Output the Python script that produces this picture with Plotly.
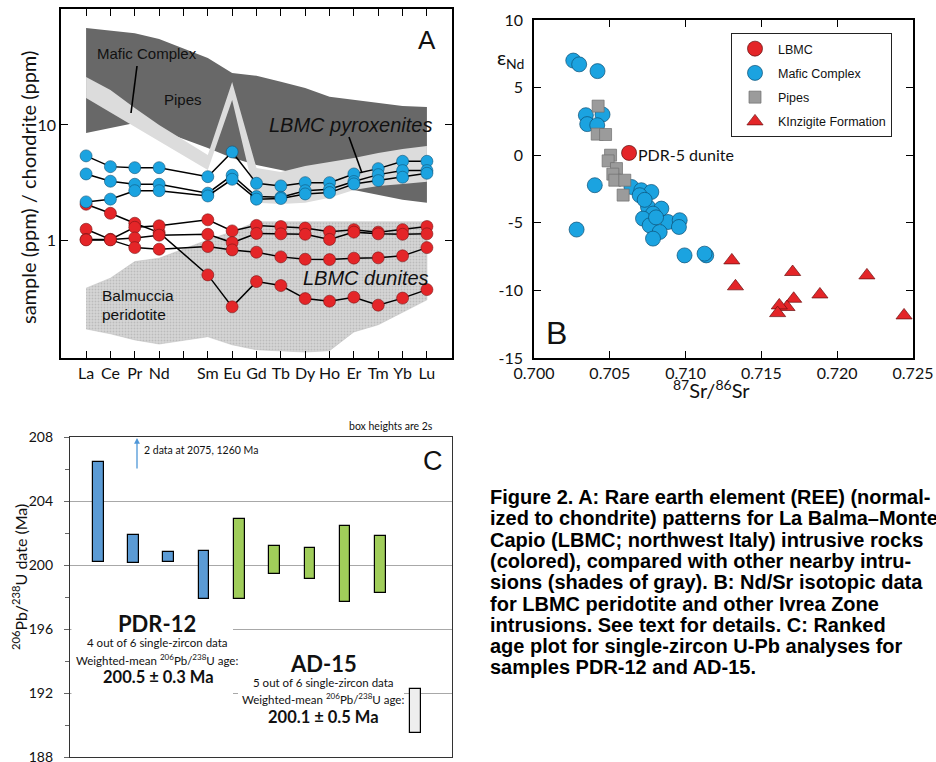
import plotly.graph_objects as go

W, H = 936, 762

# ---------------- Panel A : REE patterns ----------------
ree_axis = ["La", "Ce", "Pr", "Nd", "Pm", "Sm", "Eu", "Gd", "Tb", "Dy", "Ho", "Er", "Tm", "Yb", "Lu"]
ree_axis_labels = ["La", "Ce", "Pr", "Nd", " ", "Sm", "Eu", "Gd", "Tb", "Dy", "Ho", "Er", "Tm", "Yb", "Lu"]
ree = ["La", "Ce", "Pr", "Nd", "Sm", "Eu", "Gd", "Tb", "Dy", "Ho", "Er", "Tm", "Yb", "Lu"]

pyroxenite_1 = [5.41, 4.37, 4.28, 4.28, 3.58, 5.85, 3.14, 2.98, 3.18, 3.18, 3.78, 4.20, 4.86, 4.86]
pyroxenite_2 = [3.78, 3.27, 3.08, 3.08, 2.58, 3.68, 2.41, 2.38, 2.71, 2.79, 3.25, 3.73, 4.04, 4.04]
pyroxenite_3 = [2.17, 2.29, 2.71, 2.71, 2.44, 3.40, 2.29, 2.32, 2.54, 2.61, 3.10, 3.31, 3.54, 3.83]

dunite_1 = [2.07, 1.73, 1.42, 1.18, 0.509, 0.270, 0.446, 0.412, 0.318, 0.302, 0.327, 0.279, 0.321, 0.380]
dunite_2 = [1.26, 1.03, 1.31, 1.35, 1.52, 1.22, 1.36, 1.33, 1.29, 1.20, 1.25, 1.19, 1.25, 1.33]
dunite_3 = [1.03, 1.03, 1.06, 1.12, 1.14, 0.967, 1.16, 1.15, 1.14, 1.03, 1.19, 1.15, 1.14, 1.15]
dunite_4 = [1.02, 1.02, 0.875, 0.848, 0.893, 0.836, 0.799, 0.728, 0.695, 0.690, 0.710, 0.714, 0.743, 0.875]

pipes_upper = [68.6, 65.0, 61.8, 55.1, 37.8, 28.1, 26.5, 23.6, 20.8, 17.5, 16.4, 15.5, 14.6, 14.3]
pipes_lower = [8.53, 9.42, 10.4, 9.06, 6.34, 5.20, 4.52, 4.09, 3.71, 3.23, 2.75, 2.49, 2.26, 2.13]
mafic_upper = [25.9, 20.0, 14.0, 10.0, 5.51, 23.5, 4.26, 3.93, 4.43, 4.80, 5.20, 5.74, 6.21, 6.59]
mafic_lower = [17.1, 12.9, 9.61, 7.28, 4.09, 16.4, 2.13, 2.08, 2.13, 2.35, 2.75, 2.98, 3.10, 3.23]
peridotite_upper = [0.391, 0.477, 0.663, 0.709, 1.02, 1.20, 1.46, 1.46, 1.46, 1.46, 1.46, 1.46, 1.46, 1.46]
peridotite_lower = [0.174, 0.158, 0.140, 0.129, 0.149, 0.127, 0.115, 0.113, 0.110, 0.113, 0.164, 0.189, 0.244, 0.310]

# ---------------- Panel B : Sr-Nd isotopes ----------------
lbmc_sr = [0.70627]
lbmc_nd = [0.17]
mafic_sr = [0.70259, 0.70298, 0.70419, 0.70342, 0.70452, 0.70351, 0.70417, 0.70401, 0.70281,
            0.70643, 0.70708, 0.70774, 0.70697, 0.70752, 0.70840, 0.70785, 0.70719, 0.70884,
            0.70763, 0.70829, 0.70785, 0.70961, 0.70956, 0.70993, 0.71136, 0.71125, 0.70730, 0.70805]
mafic_nd = [7.0, 6.72, 6.22, 2.96, 3.01, 2.30, 2.22, -2.22, -5.50,
            -2.35, -2.59, -2.72, -2.96, -3.83, -3.95, -4.32, -4.69, -4.94,
            -5.19, -5.68, -6.17, -4.81, -5.31, -7.41, -7.41, -7.28, -3.3, -4.6]
pipes_sr = [0.70423, 0.70417, 0.70472, 0.70505, 0.70489, 0.70544, 0.70520, 0.70533, 0.70599, 0.70588]
pipes_nd = [3.63, 1.56, 1.53, 0.0, -0.42, -0.99, -1.40, -1.85, -1.85, -2.95]
kinz_sr = [0.71305, 0.71329, 0.71706, 0.72196, 0.71886, 0.71713, 0.71669, 0.71618, 0.71607, 0.72441]
kinz_nd = [-7.78, -9.70, -8.64, -8.89, -10.30, -10.62, -11.23, -11.11, -11.68, -11.85]
sr_ticks = [0.700, 0.705, 0.710, 0.715, 0.720, 0.725]
sr_ticktext = ["0.700", "0.705", "0.710", "0.715", "0.720", "0.725"]
nd_ticks = [-15, -10, -5, 0, 5, 10]
nd_ticktext = ["-15", "-10", "-5", "0", "5", "10"]

# ---------------- Panel C : ranked ages ----------------
zircon_rank = [1, 2, 3, 4, 5, 6, 7, 8, 9, 10]
age_top = [206.42, 201.87, 200.79, 200.87, 202.87, 201.17, 201.06, 202.42, 201.79, 192.23]
age_bottom = [200.19, 200.14, 200.21, 197.87, 197.85, 199.42, 199.10, 197.71, 198.23, 189.48]
age_colors = ["#5b9bd5"] * 4 + ["#a0cd5a"] * 5 + ["#eeeeee"]
age_ticks = [188, 192, 196, 200, 204, 208]

caption_lines = [
    "Figure 2. A: Rare earth element (REE) (normal-",
    "ized to chondrite) patterns for La Balma–Monte",
    "Capio (LBMC; northwest Italy) intrusive rocks",
    "(colored), compared with other nearby intru-",
    "sions (shades of gray). B: Nd/Sr isotopic data",
    "for LBMC peridotite and other Ivrea Zone",
    "intrusions. See text for details. C: Ranked",
    "age plot for single-zircon U-Pb analyses for",
    "samples PDR-12 and AD-15.",
]

BLUE = "#1ba3e0"
RED = "#e42528"
GILL = "Lato"
HELV = "Liberation Sans"


def pxx(x):
    return x / W


def pxy(y):
    return 1 - y / H


fig = go.Figure()

# --- Panel A shaded fields
poly_x = ree + ree[::-1]
fig.add_trace(go.Scatter(x=poly_x, y=pipes_upper + pipes_lower[::-1], fill="toself",
                         fillcolor="#686868", line=dict(width=0), mode="lines",
                         showlegend=False, hoverinfo="skip", xaxis="x", yaxis="y"))
fig.add_trace(go.Scatter(x=poly_x, y=mafic_upper + mafic_lower[::-1], fill="toself",
                         fillcolor="#dcdcdc", line=dict(width=0), mode="lines",
                         showlegend=False, hoverinfo="skip", xaxis="x", yaxis="y"))
fig.add_trace(go.Scatter(x=poly_x, y=peridotite_upper + peridotite_lower[::-1], fill="toself",
                         fillcolor="#d4d4d4",
                         fillpattern=dict(shape=".", bgcolor="#d6d6d6", fgcolor="#a0a0a0",
                                          size=3, solidity=0.3),
                         line=dict(width=0.5, color="#bbbbbb"), mode="lines",
                         showlegend=False, hoverinfo="skip", xaxis="x", yaxis="y"))

for series in [dunite_1, dunite_2, dunite_3, dunite_4]:
    fig.add_trace(go.Scatter(x=ree, y=series, mode="lines+markers",
                             line=dict(color="black", width=1.5),
                             marker=dict(color=RED, size=12, line=dict(color="#7a1515", width=0.6)),
                             showlegend=False, xaxis="x", yaxis="y"))
for series in [pyroxenite_1, pyroxenite_2, pyroxenite_3]:
    fig.add_trace(go.Scatter(x=ree, y=series, mode="lines+markers",
                             line=dict(color="black", width=1.5),
                             marker=dict(color=BLUE, size=12, line=dict(color="#11557a", width=0.6)),
                             showlegend=False, xaxis="x", yaxis="y"))

# --- Panel B
fig.add_trace(go.Scatter(x=lbmc_sr, y=lbmc_nd, mode="markers", name="LBMC", legendgroup="a",
                         marker=dict(symbol="circle", color=RED, size=15,
                                     line=dict(color="#5a1010", width=0.7)),
                         xaxis="x2", yaxis="y2"))
fig.add_trace(go.Scatter(x=mafic_sr, y=mafic_nd, mode="markers", name="Mafic Complex", legendgroup="b",
                         marker=dict(symbol="circle", color=BLUE, size=15,
                                     line=dict(color="#0d4f74", width=0.7)),
                         xaxis="x2", yaxis="y2"))
fig.add_trace(go.Scatter(x=pipes_sr, y=pipes_nd, mode="markers", name="Pipes", legendgroup="c",
                         marker=dict(symbol="square", color="#9b9b9b", size=12,
                                     line=dict(color="#6e6e6e", width=0.7)),
                         xaxis="x2", yaxis="y2"))
fig.add_trace(go.Scatter(x=kinz_sr, y=kinz_nd, mode="markers", name="KInzigite Formation", legendgroup="d",
                         marker=dict(symbol="triangle-up", color=RED, size=14,
                                     line=dict(color="#6a1010", width=0.7)),
                         xaxis="x2", yaxis="y2"))

# --- Panel C
fig.add_trace(go.Bar(x=zircon_rank, y=[t - b for t, b in zip(age_top, age_bottom)], base=age_bottom,
                     width=0.3, marker=dict(color=age_colors, line=dict(color="black", width=1.2)),
                     showlegend=False, xaxis="x3", yaxis="y3"))

tickfont_gill = dict(family=GILL, size=16, color="#111")

fig.update_layout(
    width=W, height=H, margin=dict(l=0, r=0, t=0, b=0, autoexpand=False),
    paper_bgcolor="white", plot_bgcolor="rgba(0,0,0,0)",
    bargap=0,
    legend=dict(x=pxx(731), y=pxy(33), xanchor="left", yanchor="top",
                bordercolor="#222", borderwidth=1, bgcolor="white",
                font=dict(family=HELV, size=12.5, color="#111"),
                tracegroupgap=5, itemsizing="trace", itemwidth=36),
    xaxis=dict(domain=[pxx(61), pxx(452)], anchor="y", type="category",
               categoryorder="array", categoryarray=ree_axis,
               range=[-1.03, 15.03], tickmode="array", tickvals=ree_axis, ticktext=ree_axis_labels,
               ticks="inside", ticklen=7, tickwidth=1.2, tickcolor="black",
               showline=True, linecolor="black", linewidth=1.6, mirror="ticks",
               showgrid=False, zeroline=False, tickfont=tickfont_gill),
    yaxis=dict(domain=[pxy(358), pxy(9)], anchor="x", type="log", range=[-1.01, 2.0],
               tickmode="array", tickvals=[1, 10], ticktext=["1", "10"],
               ticks="inside", ticklen=7, tickwidth=1.2, tickcolor="black",
               showline=True, linecolor="black", linewidth=1.6, mirror="ticks",
               showgrid=False, zeroline=False, tickfont=tickfont_gill),
    xaxis2=dict(domain=[pxx(534), pxx(913)], anchor="y2", range=[0.700, 0.725],
                tickmode="array", tickvals=sr_ticks, ticktext=sr_ticktext,
                ticks="inside", ticklen=7, tickwidth=1.2, tickcolor="black",
                showline=True, linecolor="black", linewidth=1.6, mirror="ticks",
                showgrid=False, zeroline=False, tickfont=tickfont_gill),
    yaxis2=dict(domain=[pxy(358), pxy(20)], anchor="x2", range=[-15, 10],
                tickmode="array", tickvals=nd_ticks, ticktext=nd_ticktext,
                ticks="inside", ticklen=7, tickwidth=1.2, tickcolor="black",
                showline=True, linecolor="black", linewidth=1.6, mirror="ticks",
                showgrid=False, zeroline=False, tickfont=tickfont_gill, ticklabelstandoff=6),
    xaxis3=dict(domain=[pxx(70), pxx(452)], anchor="y3", range=[0.2, 11.03],
                showticklabels=False, ticks="", showline=True, linecolor="#333", linewidth=1.2,
                mirror=True, showgrid=False, zeroline=False),
    yaxis3=dict(domain=[pxy(757), pxy(437)], anchor="x3", range=[188, 208],
                tickmode="array", tickvals=age_ticks, ticks="outside", ticklen=5, tickcolor="#666",
                minor=dict(tickvals=[190, 194, 198, 202, 206], ticks="outside", ticklen=4, tickcolor="#666"),
                showline=True, linecolor="#333", linewidth=1.2, mirror=True,
                showgrid=True, gridcolor="#a8a8a8", gridwidth=1, zeroline=False,
                ticklabeloverflow="allow",
                tickfont=dict(family=GILL, size=14, color="#111"), ticklabelstandoff=8),
)


def ann(text, x, y, size, family=GILL, xanchor="center", yanchor="middle", angle=0,
        color="#111", **kw):
    return dict(text=text, x=pxx(x), y=pxy(y), xref="paper", yref="paper", showarrow=False,
                font=dict(family=family, size=size, color=color), xanchor=xanchor,
                yanchor=yanchor, textangle=angle, **kw)


annotations = [
    # Panel A
    ann("sample (ppm) / chondrite (ppm)", 28, 188, 20, angle=-90),
    ann("Mafic Complex", 147, 54, 15, family=HELV),
    ann("Pipes", 183, 99, 15, family=HELV),
    ann("<i>LBMC pyroxenites</i>", 350, 125, 20, family=HELV),
    ann("<i>LBMC dunites</i>", 366, 278, 20, family=HELV),
    ann("Balmuccia", 100, 295, 15.5, family=HELV, xanchor="left"),
    ann("peridotite", 100, 315, 15.5, family=HELV, xanchor="left"),
    ann("A", 427, 40, 26, family=HELV),
    # Panel B
    ann("ε<sub>Nd</sub>", 511, 58, 20),
    ann("<sup>87</sup>Sr/<sup>86</sup>Sr", 711, 389, 20),
    ann("PDR-5 dunite", 636, 154, 16, xanchor="left"),
    ann("B", 556, 333, 32, family=HELV),
    # Panel C
    ann("box heights are 2s", 435, 426, 10.5, xanchor="right"),
    ann("C", 433, 461, 27, family=HELV),
    ann("2 data at 2075, 1260 Ma", 142, 450, 10.5, xanchor="left"),
    ann("<sup>206</sup>Pb/<sup>238</sup>U date (Ma)", 19, 577, 16, angle=-90),
    ann("<b>PDR-12</b>", 157, 623, 22),
    ann("4 out of 6 single-zircon data", 157, 642, 11.5),
    ann("Weighted-mean <sup>206</sup>Pb/<sup>238</sup>U age:", 157, 659, 11.5),
    ann("<b>200.5 ± 0.3 Ma</b>", 158, 677, 16.5),
    ann("<b>AD-15</b>", 323, 663, 22),
    ann("5 out of 6 single-zircon data", 323, 682, 11.5),
    ann("Weighted-mean <sup>206</sup>Pb/<sup>238</sup>U age:", 323, 698, 11.5),
    ann("<b>200.1 ± 0.5 Ma</b>", 323, 717, 16.5),
]
# arrow for off-scale data
annotations.append(dict(x=pxx(137), y=pxy(438), xref="paper", yref="paper", text="",
                        showarrow=True, ax=0, ay=32, arrowhead=2, arrowsize=0.9,
                        arrowwidth=1.3, arrowcolor="#4f97d8"))
# caption
for i, line in enumerate(caption_lines):
    annotations.append(ann("<b>" + line + "</b>", 488, 497 + i * 21.3, 20, family=HELV,
                           xanchor="left", color="black"))

fig.update_layout(annotations=annotations)

shapes = [
    # pointer lines in panel A
    dict(type="line", xref="paper", yref="paper", x0=pxx(137), y0=pxy(66), x1=pxx(131), y1=pxy(113),
         line=dict(color="black", width=1.6)),
    dict(type="line", xref="paper", yref="paper", x0=pxx(349), y0=pxy(137), x1=pxx(362), y1=pxy(173),
         line=dict(color="black", width=1.6)),
    # white backgrounds behind sample statistics in panel C
    dict(type="rect", xref="paper", yref="paper", x0=pxx(71.5), x1=pxx(233), y0=pxy(603), y1=pxy(703),
         fillcolor="white", line=dict(width=0), layer="above"),
    dict(type="rect", xref="paper", yref="paper", x0=pxx(238), x1=pxx(404), y0=pxy(648), y1=pxy(742),
         fillcolor="white", line=dict(width=0), layer="above"),
]
fig.update_layout(shapes=shapes)

fig.write_html("out.html", config={"displayModeBar": False},
               post_script="document.body.style.margin='0';document.body.style.overflow='hidden';")
